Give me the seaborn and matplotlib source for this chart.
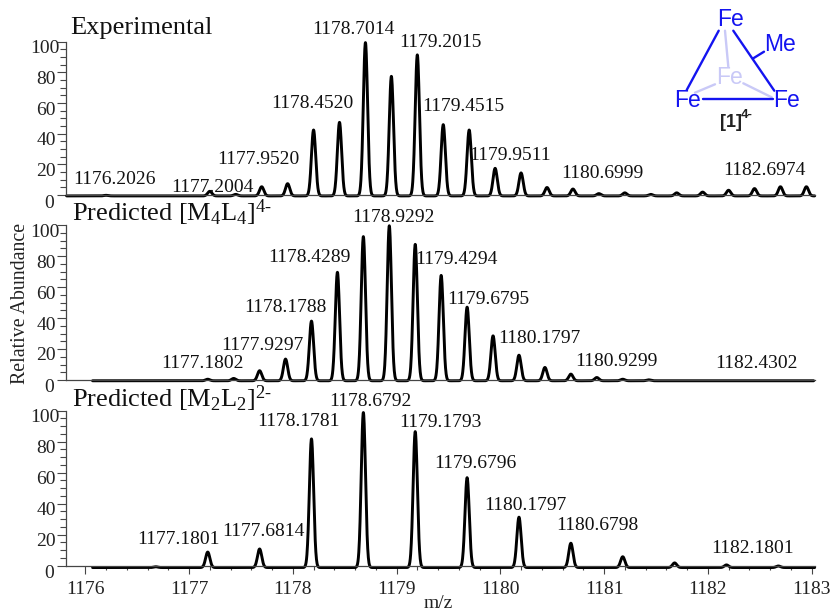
import numpy as np
import pandas as pd
import matplotlib
matplotlib.use("Agg")
import matplotlib.pyplot as plt
from matplotlib.lines import Line2D
from matplotlib.ticker import MultipleLocator
from matplotlib.transforms import Affine2D, ScaledTranslation
import seaborn as sns

# ---------- data ----------
exp_mz = [1176.20, 1177.20, 1177.45, 1177.70, 1177.95, 1178.20, 1178.45, 1178.70, 1178.95,
          1179.20, 1179.45, 1179.70, 1179.95, 1180.20, 1180.45, 1180.70, 1180.95, 1181.20,
          1181.45, 1181.70, 1181.95, 1182.20, 1182.45, 1182.70, 1182.95]
exp_int = [0.4, 3, 1, 6, 8, 43, 48, 100, 78, 92, 46.5, 43, 18, 15, 5.5, 4.5, 1.5, 2, 1, 2, 2.5,
           3.7, 4.8, 6, 6]

m4_mz = [1177.18, 1177.43, 1177.68, 1177.93, 1178.18, 1178.43, 1178.68, 1178.93, 1179.18,
         1179.43, 1179.68, 1179.93, 1180.18, 1180.43, 1180.68, 1180.93, 1181.18, 1181.43]
m4_int = [1, 1.5, 6.5, 14, 38.5, 70, 93, 100, 88, 68, 47.5, 29, 16.5, 8.6, 4.3, 2.1, 1, 0.6]

m2_mz = [1176.68, 1177.18, 1177.68, 1178.18, 1178.68, 1179.18, 1179.68, 1180.18, 1180.68,
         1181.18, 1181.68, 1182.18, 1182.68]
m2_int = [0.5, 10, 12, 83, 100, 87.7, 58, 32.5, 15.7, 7, 3, 1.7, 1]

exp_labels = ["1176.2026", "1177.2004", "1177.9520", "1178.4520", "1178.7014", "1179.2015",
              "1179.4515", "1179.9511", "1180.6999", "1182.6974"]
m4_labels = ["1177.1802", "1177.9297", "1178.1788", "1178.4289", "1178.9292", "1179.4294",
             "1179.6795", "1180.1797", "1180.9299", "1182.4302"]
m2_labels = ["1177.1801", "1177.6814", "1178.1781", "1178.6792", "1179.1793", "1179.6796",
             "1180.1797", "1180.6798", "1182.1801"]

titles = ["Experimental", r"Predicted [M$_{4}$L$_{4}$]$^{\text{4-}}$", r"Predicted [M$_{2}$L$_{2}$]$^{\text{2-}}$"]
y_ticks = [0, 20, 40, 60, 80, 100]
x_ticks = [1176, 1177, 1178, 1179, 1180, 1181, 1182, 1183]

# ---------- layout (pixels of the 834x611 picture) ----------
W, H = 834, 611
exp_pos = [(114, 179), (212.5, 187), (258.5, 160), (312.5, 103), (353, 30), (440, 42.7),
           (463, 106.7), (510.5, 156), (602.7, 173), (764, 170.7)]
m4_pos = [(202.5, 363), (262, 346), (285.5, 308), (309.7, 257), (393, 217), (456.7, 260),
          (488, 299), (539, 338.7), (616.7, 362), (756.5, 364)]
m2_pos = [(178, 540), (263, 531.7), (298.3, 421.7), (370.8, 401), (440, 422.3), (475, 464),
          (525, 506), (597.7, 525.7), (752.7, 548.3)]

sns.set_theme(style="ticks")
plt.rcParams.update({
    "font.family": ["Liberation Serif", "DejaVu Serif"],
    "mathtext.fontset": "custom",
    "mathtext.rm": "Liberation Serif",
    "mathtext.default": "rm",
})

fig = plt.figure(figsize=(W / 100, H / 100), dpi=100, facecolor="white")
PX = Affine2D().scale(1, -1).translate(0, H)   # picture pixels -> display


def axes_px(left, right, top, bottom):
    return fig.add_axes([left / W, 1 - bottom / H, (right - left) / W, (bottom - top) / H])


def profile(centres, heights, start, stop, floor, sigma=0.0205):
    grid = np.arange(start, stop, 0.002)
    y = np.zeros_like(grid)
    for c, h in zip(centres, heights):
        y += h * np.exp(-0.5 * ((grid - c) / sigma) ** 2)
    return pd.DataFrame({"m/z": grid, "abundance": y + floor})


panels = [
    (exp_mz, exp_int, 41.7, 195.0, 1175.82, 1183.03, exp_labels, exp_pos, (70, 34), -0.6),
    (m4_mz, m4_int, 225.0, 380.0, 1176.07, 1183.02, m4_labels, m4_pos, (72, 220.7), -0.5),
    (m2_mz, m2_int, 410.7, 565.7, 1176.07, 1183.03, m2_labels, m2_pos, (72, 406.7), -1.2),
]
axes = []
axis_col = "#454545"
for i, (mz, inten, top, bottom, start, stop, labs, pos, tpos, floor) in enumerate(panels):
    ax = axes_px(66, 815, top, bottom)
    axes.append(ax)
    df = profile(mz, inten, start, stop, floor)
    sns.lineplot(data=df, x="m/z", y="abundance", estimator=None, sort=False, color="black",
                 linewidth=2.1, ax=ax, clip_on=False, solid_joinstyle="round")
    ax.set_xlim(1175.814, 1183.033)
    ax.set_ylim(0, 100)
    ax.set_xlabel("")
    ax.set_ylabel("")
    sns.despine(ax=ax)
    for s in ("left", "bottom"):
        ax.spines[s].set_color(axis_col)
        ax.spines[s].set_linewidth(0.9)
    ax.yaxis.set_minor_locator(MultipleLocator(5))
    ax.set_yticks(y_ticks)
    ax.tick_params(axis="y", which="major", length=6.4, width=0.8, color=axis_col, pad=0,
                   labelsize=14, labelcolor="#222222")
    ax.tick_params(axis="y", which="minor", length=4.0, width=0.8, color=axis_col)
    for lab, v in zip(ax.get_yticklabels(), y_ticks):
        dx = {1: -3, 2: -1, 3: 2}[len(str(v))]
        dy = -6 if v == 0 else -5
        lab.set_transform(lab.get_transform() + ScaledTranslation(dx / 100, dy / 100, fig.dpi_scale_trans))
    if i < 2:
        ax.set_xticks([])
    else:
        ax.set_xticks(x_ticks)
        ax.set_xticklabels([str(t) for t in x_ticks])
        ax.xaxis.set_minor_locator(MultipleLocator(0.2))
        ax.tick_params(axis="x", which="major", length=5.8, width=0.8, color=axis_col, pad=5,
                       labelsize=14, labelcolor="#222222")
        ax.tick_params(axis="x", which="minor", length=3.0, width=0.8, color=axis_col)
    for s, (x, y) in zip(labs, pos):
        fig.text(x, y, s, transform=PX, ha="center", va="center", fontsize=14, color="#111111")
    fig.text(tpos[0], tpos[1], titles[i], transform=PX, ha="left", va="baseline", fontsize=19,
             color="#111111")

fig.text(21, 303, "Relative Abundance", transform=PX, rotation=90, ha="center", va="center",
         fontsize=14.3, color="#222222")
fig.text(438, 603, "m/z", transform=PX, ha="center", va="center", fontsize=14, color="#222222")

# ---------- complex sketch ----------
blue = "#1414f0"
pale = "#c9c9f7"
bonds = [((718.7, 30.7), (686.7, 90)), ((733.3, 30.7), (774.3, 90.7)),
         ((703.3, 99.3), (773.3, 99.3)), ((753.3, 58.3), (764, 51.7))]
pale_bonds = [((725, 30.7), (728.3, 66.7)), ((695, 92.7), (715, 84.3)), ((743.3, 83.3), (771.7, 97.3))]
for group, col in ((pale_bonds, pale), (bonds, blue)):
    for a, b in group:
        fig.add_artist(Line2D([a[0], b[0]], [a[1], b[1]], transform=PX, color=col, linewidth=1.7))
for s, x, y, col in (("Fe", 730.7, 20, blue), ("Fe", 688, 100.7, blue), ("Fe", 786.7, 100.7, blue),
                     ("Fe", 729, 77.7, pale), ("Me", 780, 44.3, blue)):
    fig.text(x, y, s, transform=PX, ha="center", va="center", fontsize=16.5, color=col,
             family="Liberation Sans")
fig.text(720, 127, "[1]", transform=PX, ha="left", va="baseline", fontsize=13, fontweight="bold",
         color="#222222", family="Liberation Sans")
fig.text(741, 118, "4-", transform=PX, ha="left", va="baseline", fontsize=9.5, fontweight="bold",
         color="#222222", family="Liberation Sans")

fig.savefig("out.png", dpi=100, facecolor="white")
